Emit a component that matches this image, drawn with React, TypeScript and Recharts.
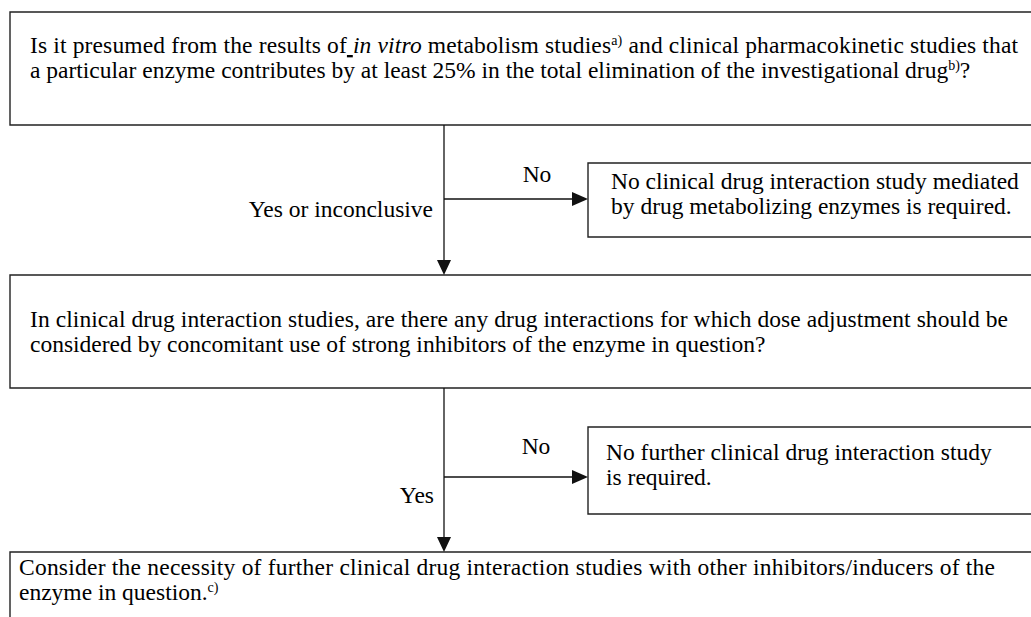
import React from "react";
import {
  ComposedChart,
  XAxis,
  YAxis,
  ReferenceArea,
  ReferenceLine,
  Scatter,
} from "recharts";

// page / chart size
const W = 1031;
const H = 617;
const FONT = '"Liberation Serif", "Times New Roman", Times, serif';
const FS = 23.5;
const LINE_GAP = 25;

type Seg = { t: string; i?: boolean; sup?: boolean; u?: boolean };

// question / result texts (one entry per box, each line a list of segments)
const box1Lines: Seg[][] = [
  [
    { t: "Is it presumed from the results of" },
    { t: " ", u: true },
    { t: "in vitro", i: true },
    { t: " metabolism studies" },
    { t: "a)", sup: true },
    { t: " and clinical pharmacokinetic studies that" },
  ],
  [
    { t: "a particular enzyme contributes by at least 25% in the total elimination of the investigational drug" },
    { t: "b)", sup: true },
    { t: "?" },
  ],
];
const box2Lines: Seg[][] = [
  [{ t: "No clinical drug interaction study mediated" }],
  [{ t: "by drug metabolizing enzymes is required." }],
];
const box3Lines: Seg[][] = [
  [{ t: "In clinical drug interaction studies, are there any drug interactions for which dose adjustment should be" }],
  [{ t: "considered by concomitant use of strong inhibitors of the enzyme in question?" }],
];
const box4Lines: Seg[][] = [
  [{ t: "No further clinical drug interaction study" }],
  [{ t: "is required." }],
];
const box5Lines: Seg[][] = [
  [{ t: "Consider the necessity of further clinical drug interaction studies with other inhibitors/inducers of the" }],
  [{ t: "enzyme in question." }, { t: "c)", sup: true }],
];

// branch labels
const branchLabels = ["No", "Yes or inconclusive", "No", "Yes"];

// layout (page pixel coordinates)
const boxRects = [
  { x1: 10, x2: W + 10, y1: 12, y2: 125 },
  { x1: 588, x2: W + 10, y1: 163, y2: 237 },
  { x1: 10, x2: W + 10, y1: 275, y2: 388 },
  { x1: 588, x2: W + 10, y1: 427, y2: 514 },
  { x1: 10, x2: W + 10, y1: 552, y2: H + 10 },
];
// justifyTo: right edge of a justified first line (0 = ragged)
const textBlocks = [
  { x: 30, y: 53, justifyTo: 1018, lines: box1Lines },
  { x: 611, y: 189, justifyTo: 0, lines: box2Lines },
  { x: 30, y: 327, justifyTo: 1008, lines: box3Lines },
  { x: 606, y: 460, justifyTo: 0, lines: box4Lines },
  { x: 19, y: 575, justifyTo: 995, lines: box5Lines },
];
const labelSpots = [
  { x: 537, y: 182, anchor: "middle" },
  { x: 433, y: 217, anchor: "end" },
  { x: 536, y: 454, anchor: "middle" },
  { x: 434, y: 503, anchor: "end" },
];
const connectors = [
  [{ x: 444, y: 125 }, { x: 444, y: 266 }],
  [{ x: 444, y: 199 }, { x: 578, y: 199 }],
  [{ x: 444, y: 388 }, { x: 444, y: 543 }],
  [{ x: 444, y: 477 }, { x: 578, y: 477 }],
];
const arrowTips = [
  { x: 444, y: 275, dir: "down" },
  { x: 588, y: 199, dir: "right" },
  { x: 444, y: 552, dir: "down" },
  { x: 588, y: 477, dir: "right" },
];

const renderLine = (segs: Seg[], x: number, y: number, key: number, right: number) => {
  const out: React.ReactNode[] = [];
  let raised = false;
  segs.forEach((s, i) => {
    let dy = 0;
    if (s.sup && !raised) {
      dy = -8;
      raised = true;
    } else if (!s.sup && raised) {
      dy = 8;
      raised = false;
    }
    out.push(
      <tspan
        key={i}
        dy={dy || undefined}
        style={{
          fontStyle: s.i ? "italic" : "normal",
          fontSize: s.sup ? 14 : FS,
          textDecoration: s.u ? "underline" : "none",
          whiteSpace: "pre",
        }}
      >
        {s.t}
      </tspan>
    );
  });
  return (
    <text
      key={key}
      x={x}
      y={y}
      fill="#000"
      textLength={right ? right - x : undefined}
      lengthAdjust={right ? "spacing" : undefined}
      style={{ fontFamily: FONT, fontSize: FS, whiteSpace: "pre" }}
    >
      {out}
    </text>
  );
};

const TextBlock = (props: any) => {
  const { cx, cy, payload } = props;
  return (
    <g>
      {payload.lines.map((ln: Seg[], i: number) =>
        renderLine(ln, cx, cy + i * LINE_GAP, i, i === 0 ? payload.justifyTo : 0)
      )}
    </g>
  );
};

const LabelText = (props: any) => {
  const { cx, cy, payload } = props;
  return (
    <text
      x={cx}
      y={cy}
      textAnchor={payload.anchor}
      fill="#000"
      style={{ fontFamily: FONT, fontSize: FS }}
    >
      {payload.label}
    </text>
  );
};

const ArrowHead = (props: any) => {
  const { cx, cy, payload } = props;
  const d =
    payload.dir === "down"
      ? `M${cx},${cy} L${cx - 7},${cy - 15} L${cx + 7},${cy - 15} Z`
      : `M${cx},${cy} L${cx - 16},${cy - 7} L${cx - 16},${cy + 7} Z`;
  return <path d={d} fill="#111" stroke="none" />;
};

export default function App() {
  const labelData = labelSpots.map((p, i) => ({ ...p, label: branchLabels[i] }));
  return (
    <div
      style={{
        position: "absolute",
        left: 0,
        top: 0,
        width: W,
        height: H,
        background: "#fff",
        fontFamily: FONT,
      }}
    >
      <ComposedChart width={W} height={H} margin={{ top: 0, right: 0, bottom: 0, left: 0 }}>
        <XAxis type="number" dataKey="x" domain={[0, W]} hide allowDataOverflow />
        <YAxis type="number" dataKey="y" domain={[0, H]} reversed hide allowDataOverflow />
        {boxRects.map((b, i) => (
          <ReferenceArea
            key={"box" + i}
            x1={b.x1}
            x2={b.x2}
            y1={b.y1}
            y2={b.y2}
            fill="#fff"
            fillOpacity={1}
            stroke="#222"
            strokeWidth={1.4}
            ifOverflow="visible"
          />
        ))}
        {connectors.map((seg, i) => (
          <ReferenceLine key={"ln" + i} segment={seg} stroke="#111" strokeWidth={1.3} ifOverflow="visible" />
        ))}
        <Scatter data={arrowTips} shape={<ArrowHead />} isAnimationActive={false} />
        <Scatter data={textBlocks} shape={<TextBlock />} isAnimationActive={false} />
        <Scatter data={labelData} shape={<LabelText />} isAnimationActive={false} />
      </ComposedChart>
    </div>
  );
}
